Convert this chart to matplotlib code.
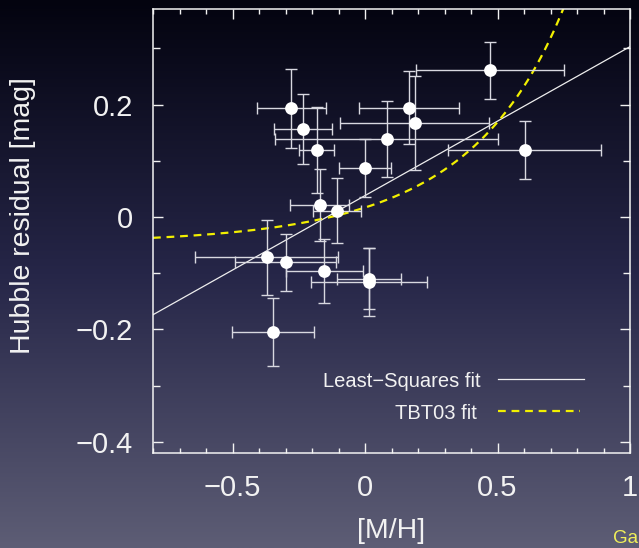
import numpy as np
import matplotlib
matplotlib.use("Agg")
import matplotlib.pyplot as plt
from matplotlib.colors import LinearSegmentedColormap
from matplotlib.ticker import MultipleLocator, FuncFormatter

plt.rcParams['font.family'] = ['Liberation Sans', 'DejaVu Sans']

# ---- data ----
metallicity = [-0.278, -0.235, -0.183, -0.171, -0.106, 0.001, 0.082, 0.166, 0.187,
               0.471, 0.602, -0.371, -0.299, -0.153, 0.014, 0.015, -0.347]
metal_err = [0.13, 0.109, 0.065, 0.112, 0.091, 0.098, 0.42, 0.19, 0.28,
             0.28, 0.29, 0.27, 0.19, 0.146, 0.12, 0.22, 0.154]
residual = [0.193, 0.156, 0.119, 0.022, 0.011, 0.087, 0.139, 0.194, 0.167,
            0.261, 0.119, -0.072, -0.081, -0.096, -0.110, -0.116, -0.205]
residual_err = [0.07, 0.062, 0.077, 0.064, 0.058, 0.051, 0.068, 0.065, 0.083,
                0.051, 0.051, 0.067, 0.05, 0.057, 0.054, 0.06, 0.061]

# least-squares fit: y = a + b x
ls_intercept = 0.038
ls_slope = 0.265
# TBT03 model: y = -2.5 log10(1 - k 10^x) + offset
tbt_k = 0.057
tbt_offset = -0.047

x_ticks = [-0.5, 0, 0.5, 1]
y_ticks = [-0.4, -0.2, 0, 0.2]

W, H = 639, 548
fig = plt.figure(figsize=(W / 100, H / 100), dpi=100)

# background gradient
bg = fig.add_axes([0, 0, 1, 1], zorder=-10)
cmap = LinearSegmentedColormap.from_list(
    'bg', [(0.0, '#03030f'), (0.5, '#262648'), (1.0, '#5d5d75')])
grad = np.linspace(0, 1, 256).reshape(-1, 1)
bg.imshow(grad, aspect='auto', cmap=cmap, extent=[0, 1, 1, 0])
bg.set_axis_off()

L, R, T, B = 153, 630, 9, 453
ax = fig.add_axes([L / W, 1 - B / H, (R - L) / W, (B - T) / H])
ax.set_facecolor('none')

fg = '#f2f2f2'
ax.set_xlim(-0.8, 1.0)
ax.set_ylim(-0.42, 0.37)

# fits
xl = np.array(ax.get_xlim())
ax.plot(xl, ls_intercept + ls_slope * xl, color='#eeeeee', lw=0.9, zorder=2)
xm = np.linspace(-0.8, 0.8, 400)
ym = -2.5 * np.log10(1 - tbt_k * 10 ** xm) + tbt_offset
ax.plot(xm, ym, color='#f2f000', lw=1.6, dashes=(3.5, 2.6), zorder=2)

# data
ax.errorbar(metallicity, residual, xerr=metal_err, yerr=residual_err,
            fmt='o', color='white', ms=9.2, mec='none',
            ecolor='#d8d8e0', elinewidth=1.0, capsize=4.5, capthick=1.0, zorder=3)

# axes styling
for s in ax.spines.values():
    s.set_color(fg)
    s.set_linewidth(1.1)
ax.xaxis.set_minor_locator(MultipleLocator(0.1))
ax.yaxis.set_minor_locator(MultipleLocator(0.1))
ax.set_xticks(x_ticks)
ax.set_yticks(y_ticks)
fmt = FuncFormatter(lambda v, p: ('%g' % v).replace('-', '\u2212'))
ax.xaxis.set_major_formatter(fmt)
ax.yaxis.set_major_formatter(fmt)
ax.tick_params(which='both', direction='in', top=True, right=True, colors=fg,
               labelcolor=fg, width=1.0, labelsize=21)
ax.tick_params(which='major', length=7.5)
ax.tick_params(axis='x', which='minor', length=3.8)
ax.tick_params(axis='y', which='minor', length=5)
ax.tick_params(axis='x', which='major', pad=15)
ax.tick_params(axis='y', which='major', pad=14.5)

fig.text(391 / W, 1 - 531 / H, '[M/H]', color=fg, fontsize=20.5,
         ha='center', va='center')
fig.text(23 / W, 1 - 216 / H, 'Hubble residual [mag]', color=fg, fontsize=20.5,
         ha='center', va='center', rotation=90)

# legend (manual)
leg_labels = ['Least\u2212Squares fit', 'TBT03 fit']
ax.text(0.686, 0.160, leg_labels[0], transform=ax.transAxes, color=fg,
        fontsize=14.5, ha='right', va='center')
ax.plot([0.723, 0.904], [0.167, 0.167], transform=ax.transAxes,
        color='#eeeeee', lw=0.9)
ax.text(0.678, 0.088, leg_labels[1], transform=ax.transAxes, color=fg,
        fontsize=14.5, ha='right', va='center')
ax.plot([0.723, 0.895], [0.095, 0.095], transform=ax.transAxes,
        color='#f2f000', lw=1.6, dashes=(3.5, 2.6))

fig.text(613 / W, 1 - 543 / H, 'Ga', color='#f0ef5a',
         fontsize=13.5, ha='left', va='baseline')

fig.savefig('out.png', dpi=100)
